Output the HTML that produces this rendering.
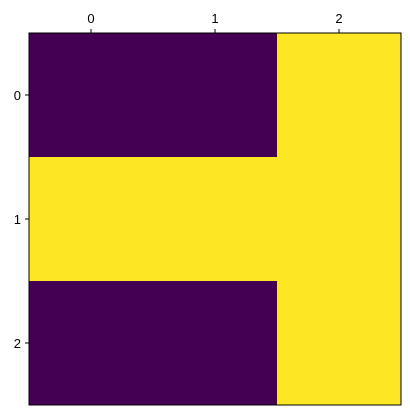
<!DOCTYPE html>
<html><head><style>body{margin:0;background:#fff}svg{display:block}text{font-family:"Liberation Sans",sans-serif;font-size:13px;fill:#000}</style></head>
<body>
<svg id="c" width="410" height="420"></svg>
<script>
const rowLabels=["0","1","2"];
const colLabels=["0","1","2"];
const values=[[0,0,1],[1,1,1],[0,0,1]];
const L=29,T=33,S=372;
const n=colLabels.length, cw=S/n;
const xs=i=>L+i*cw, ys=j=>T+j*(S/rowLabels.length);
const color=v=>v>=0.5?"#fde725":"#440154";
const svg=document.getElementById('c');const NS="http://www.w3.org/2000/svg";
function mk(t,a){const e=document.createElementNS(NS,t);for(const k in a)e.setAttribute(k,a[k]);svg.appendChild(e);return e;}
values.forEach((row,j)=>row.forEach((v,i)=>{
 const r=mk('rect',{x:xs(i),y:ys(j),width:cw+0.5,height:S/rowLabels.length+0.5,fill:color(v)});
 
 
}));
const f=mk('rect',{x:L,y:T,width:S,height:S,fill:'none',stroke:'#000','stroke-width':1});


colLabels.forEach((l,i)=>{const x=xs(i)+cw/2;
 mk('line',{x1:x,x2:x,y1:T,y2:T-4,stroke:'#000'});
 const t=mk('text',{x:x,y:T-10,'text-anchor':'middle'});t.textContent=l;
 
 });
rowLabels.forEach((l,j)=>{const y=ys(j)+S/rowLabels.length/2;
 mk('line',{x1:L,x2:L-4,y1:y,y2:y,stroke:'#000'});
 const t=mk('text',{x:L-8,y:y+5,'text-anchor':'end'});t.textContent=l;
 
 });
</script>
</body></html>
